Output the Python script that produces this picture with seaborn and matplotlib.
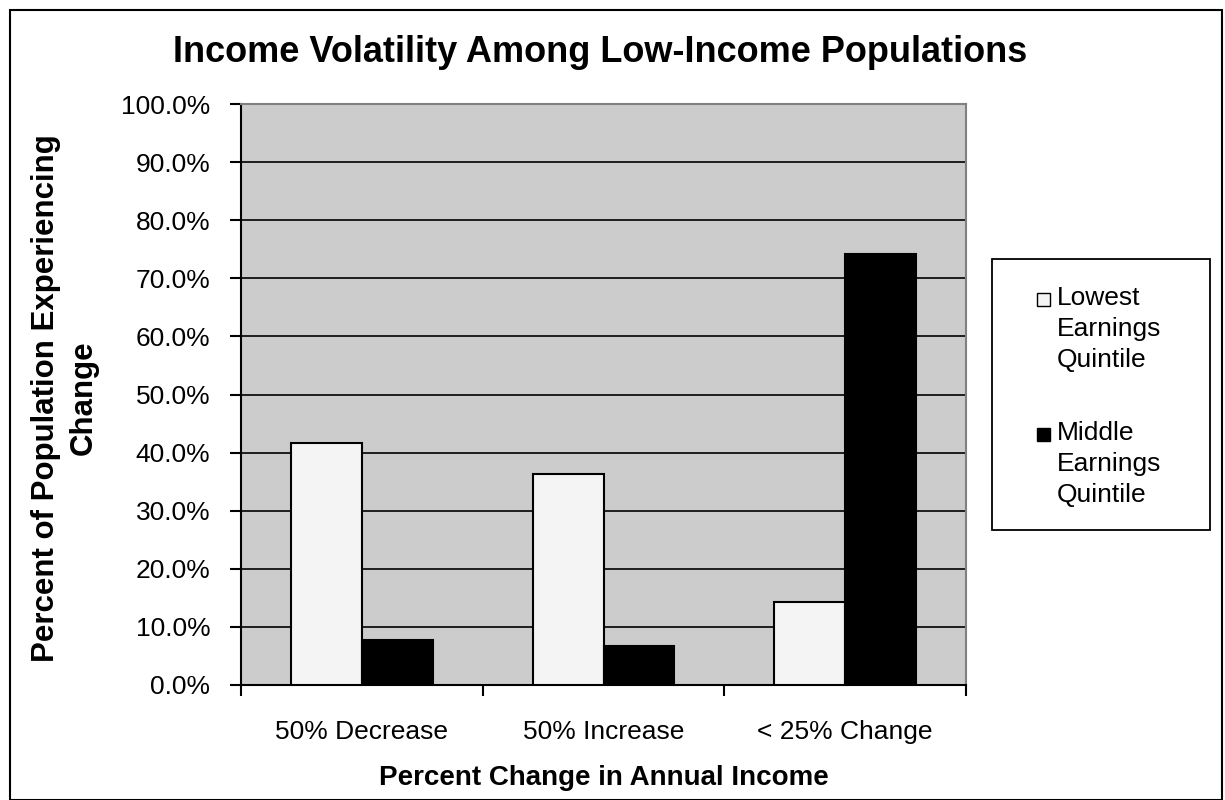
import matplotlib
matplotlib.use("Agg")
import matplotlib.pyplot as plt
import matplotlib.patches as mpatches
from matplotlib.ticker import FuncFormatter, FixedLocator
import seaborn as sns
import pandas as pd

categories = ["50% Decrease", "50% Increase", "< 25% Change"]
series_names = ["Lowest\nEarnings\nQuintile", "Middle\nEarnings\nQuintile"]
lowest = [41.7, 36.3, 14.2]
middle = [7.7, 6.7, 74.2]
colors = ["#F4F4F4", "#000000"]

df = pd.DataFrame({
    "category": categories * 2,
    "series": [series_names[0]] * 3 + [series_names[1]] * 3,
    "value": lowest + middle,
})

sns.set_theme(style="white")
plt.rcParams["font.family"] = ["Liberation Sans", "DejaVu Sans"]
plt.rcParams["text.color"] = "black"
plt.rcParams["axes.labelcolor"] = "black"
plt.rcParams["xtick.color"] = "black"
plt.rcParams["ytick.color"] = "black"

W, H = 1225, 800
fig = plt.figure(figsize=(12.25, 8), dpi=100)
ax = fig.add_axes([241 / W, 1 - 685 / H, (966 - 241) / W, (685 - 104) / H])
ax.set_facecolor("#CCCCCC")

sns.barplot(data=df, x="category", y="value", hue="series", order=categories,
            hue_order=series_names, palette=colors, width=0.585, gap=0,
            edgecolor="black", linewidth=1.5, ax=ax, legend=False, zorder=3)

ax.set_ylim(0, 100)
ax.set_xlim(-0.5, 2.5)
ax.set_yticks(range(0, 101, 10))
ax.yaxis.set_major_formatter(FuncFormatter(lambda v, p: f"{v:.1f}%"))
ax.grid(axis="y", color="black", linewidth=1.2, zorder=1)
ax.set_axisbelow(True)

ax.set_xticks(range(len(categories)))
ax.set_xticklabels(categories)
ax.xaxis.set_minor_locator(FixedLocator([-0.5, 0.5, 1.5, 2.5]))
ax.tick_params(axis="x", which="major", length=0, pad=25, labelsize=19, labelcolor="black")
ax.tick_params(axis="x", which="minor", length=8, width=1.5, direction="out", color="black", bottom=True)
ax.tick_params(axis="y", which="major", length=8, width=1.5, direction="out", color="black",
               left=True, labelsize=19, pad=14, labelcolor="black")

for s in ["top", "right"]:
    ax.spines[s].set_color("#808080")
    ax.spines[s].set_linewidth(1.5)
for s in ["left", "bottom"]:
    ax.spines[s].set_color("black")
    ax.spines[s].set_linewidth(1.5)

ax.set_xlabel("")
ax.set_ylabel("")

fig.text(604 / W, 1 - 778 / H, "Percent Change in Annual Income", ha="center", va="center",
         fontsize=20, fontweight="bold", color="black")
fig.text(65 / W, 1 - 398 / H, "Percent of Population Experiencing\nChange", ha="center", va="center",
         rotation=90, multialignment="center", fontsize=22.5, fontweight="bold", color="black",
         linespacing=1.35)
fig.text(600 / W, 1 - 53 / H, "Income Volatility Among Low-Income Populations",
         ha="center", va="center", fontsize=26, fontweight="bold", color="black")

# Legend (framed box with swatches and labels)
fig.patches.append(mpatches.Rectangle((992 / W, 1 - 530 / H), (1210 - 992) / W, (530 - 259) / H,
                                      transform=fig.transFigure, fill=True, facecolor="white",
                                      edgecolor="black", linewidth=1.3))
legend_tops = [286, 421]
for name, col, top in zip(series_names, colors, legend_tops):
    fig.patches.append(mpatches.Rectangle((1037 / W, 1 - (top + 20) / H), 13 / W, 13 / H,
                                          transform=fig.transFigure, facecolor=col,
                                          edgecolor="black", linewidth=1))
    fig.text(1057 / W, 1 - top / H, name, ha="left", va="top", fontsize=19,
             color="black", linespacing=1.37)

fig.patches.append(mpatches.Rectangle((10 / W, 0), (1222 - 10) / W, 1 - 10 / H,
                                      transform=fig.transFigure, fill=False,
                                      edgecolor="black", linewidth=1.5))

fig.savefig("out.png", dpi=100, facecolor="white")
